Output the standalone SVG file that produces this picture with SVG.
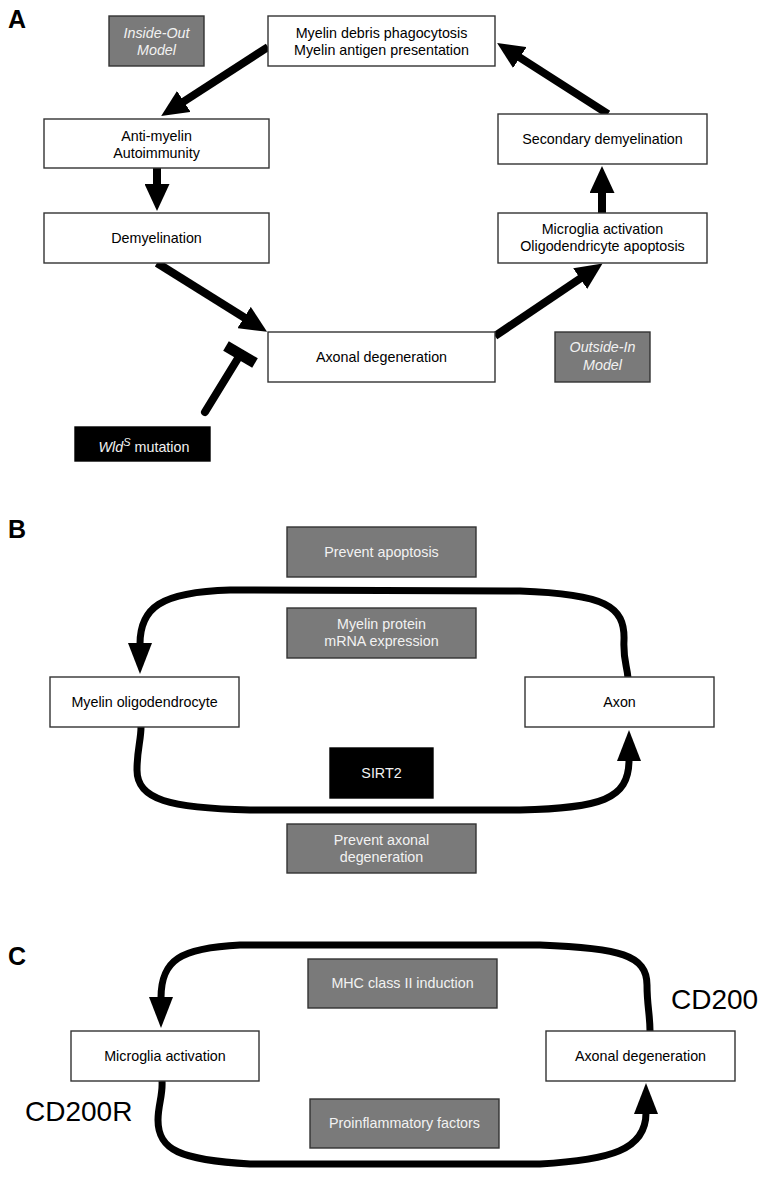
<svg xmlns="http://www.w3.org/2000/svg" width="766" height="1178" viewBox="0 0 766 1178">
<style>
.bx{fill:#fff;stroke:#333;stroke-width:1.4}
.gr{fill:#7a7a7a;stroke:#333;stroke-width:1.4}
.bk{fill:#000;stroke:#000;stroke-width:1.4}
text{font-family:"Liberation Sans",Arial,sans-serif;font-size:14.3px;text-anchor:middle;fill:#000}
.w{fill:#f2f2f2}
.it{font-style:italic}
.lbl{font-weight:bold;font-size:25px;text-anchor:start}
.big{font-size:28px;text-anchor:start}
.ar{fill:none;stroke:#000;stroke-width:8}
.cv{fill:none;stroke:#000;stroke-width:7}
</style>
<defs>
<marker id="ah" markerUnits="userSpaceOnUse" markerWidth="28" markerHeight="25" refX="1" refY="12.5" orient="auto" viewBox="0 0 28 25"><path d="M0,0 L27,12.5 L0,25 z" fill="#000"/></marker>
<marker id="ac" markerUnits="userSpaceOnUse" markerWidth="32" markerHeight="24" refX="1" refY="12" orient="auto" viewBox="0 0 32 24"><path d="M0,0 L31,12 L0,24 z" fill="#000"/></marker>
</defs>
<text class="lbl" x="8" y="28">A</text>
<text class="lbl" x="8" y="538">B</text>
<text class="lbl" x="8" y="965">C</text>
<g id="connectors">
<line class="ar" x1="268" y1="47" x2="183" y2="102" marker-end="url(#ah)"/>
<line class="ar" x1="157" y1="168" x2="157" y2="185" marker-end="url(#ah)"/>
<line class="ar" x1="157" y1="263" x2="245" y2="318" marker-end="url(#ah)"/>
<line class="ar" x1="495" y1="336" x2="581" y2="278" marker-end="url(#ah)"/>
<line class="ar" x1="602" y1="213" x2="602" y2="192" marker-end="url(#ah)"/>
<line class="ar" x1="608" y1="114" x2="519" y2="57" marker-end="url(#ah)"/>
<line x1="205" y1="412" x2="240" y2="355" stroke="#000" stroke-width="8" stroke-linecap="round"/>
<line x1="226" y1="346" x2="255" y2="363" stroke="#000" stroke-width="11"/>
<path class="cv" d="M628 678 C627 665,623 660,624 640 C625 606,605 594,520 591 L230 590 C160 592,140 608,140 644" marker-end="url(#ac)"/>
<path class="cv" d="M141 727 C141 740,137 750,137 770 C137 800,170 808,250 810 L520 810 C600 808,629 800,629 760" marker-end="url(#ac)"/>
<path class="cv" d="M650 1031 C650 1015,647 1005,647 985 C647 955,620 948,540 945 L240 945 C180 948,161 960,161 998" marker-end="url(#ac)"/>
<path class="cv" d="M162 1081 C163 1095,158 1105,158 1120 C158 1150,180 1160,250 1164 L540 1164 C610 1160,646 1150,646 1113" marker-end="url(#ac)"/>
</g>
<g id="insideout"><rect class="gr" x="109" y="16" width="95" height="50"/><text class="w it" x="156.5" y="38">Inside-Out</text><text class="w it" x="156.5" y="55">Model</text></g>
<g id="phago"><rect class="bx" x="268" y="16" width="227" height="50"/><text x="381.5" y="38">Myelin debris phagocytosis</text><text x="381.5" y="55">Myelin antigen presentation</text></g>
<g id="antimyelin"><rect class="bx" x="44" y="119" width="225" height="49"/><text x="156.5" y="141">Anti-myelin</text><text x="156.5" y="158">Autoimmunity</text></g>
<g id="demyel"><rect class="bx" x="44" y="213" width="225" height="50"/><text x="156.5" y="243">Demyelination</text></g>
<g id="axdeg"><rect class="bx" x="268" y="332" width="227" height="50"/><text x="381.5" y="362">Axonal degeneration</text></g>
<g id="secdemyel"><rect class="bx" x="498" y="114" width="209" height="50"/><text x="602.5" y="144">Secondary demyelination</text></g>
<g id="microA"><rect class="bx" x="498" y="213" width="209" height="50"/><text x="602.5" y="234">Microglia activation</text><text x="602.5" y="251">Oligodendricyte apoptosis</text></g>
<g id="outsidein"><rect class="gr" x="555" y="332" width="95" height="50"/><text class="w it" x="602.5" y="352">Outside-In</text><text class="w it" x="602.5" y="370">Model</text></g>
<g id="wlds"><rect class="bk" x="75" y="427" width="135" height="34"/><text class="w" x="144" y="452"><tspan class="it">Wld</tspan><tspan class="it" dy="-6" font-size="11">S</tspan><tspan dy="6"> mutation</tspan></text></g>
<g id="prevapo"><rect class="gr" x="287" y="527" width="189" height="50"/><text class="w" x="381.5" y="557">Prevent apoptosis</text></g>
<g id="mrna"><rect class="gr" x="287" y="608" width="189" height="50"/><text class="w" x="381.5" y="629">Myelin protein</text><text class="w" x="381.5" y="646">mRNA expression</text></g>
<g id="myolig"><rect class="bx" x="50" y="677" width="189" height="50"/><text x="144.5" y="707">Myelin oligodendrocyte</text></g>
<g id="axon"><rect class="bx" x="525" y="677" width="189" height="50"/><text x="619.5" y="707">Axon</text></g>
<g id="sirt2"><rect class="bk" x="330" y="748" width="103" height="50"/><text class="w" x="381.5" y="778">SIRT2</text></g>
<g id="prevax"><rect class="gr" x="287" y="824" width="189" height="49"/><text class="w" x="381.5" y="845">Prevent axonal</text><text class="w" x="381.5" y="862">degeneration</text></g>
<g id="mhc"><rect class="gr" x="308" y="959" width="189" height="49"/><text class="w" x="402.5" y="988">MHC class II induction</text></g>
<g id="proinf"><rect class="gr" x="310" y="1099" width="189" height="49"/><text class="w" x="404.5" y="1128">Proinflammatory factors</text></g>
<g id="microC"><rect class="bx" x="71" y="1031" width="188" height="50"/><text x="165" y="1061">Microglia activation</text></g>
<g id="axdegC"><rect class="bx" x="546" y="1031" width="189" height="50"/><text x="640.5" y="1061">Axonal degeneration</text></g>
<text class="big" x="25" y="1121">CD200R</text>
<text class="big" x="671" y="1009">CD200</text>
</svg>
